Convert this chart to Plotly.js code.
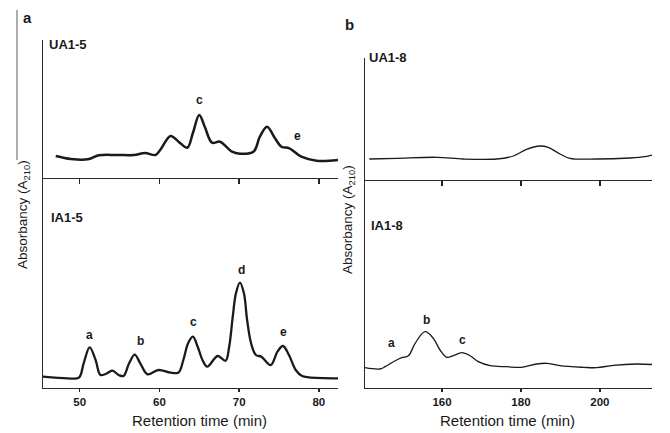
<!DOCTYPE html>
<html>
<head>
<meta charset="utf-8">
<script src="https://cdn.plot.ly/plotly-3.0.1.min.js"></script>
<style>html,body{margin:0;padding:0;background:#fff;}#chart{width:670px;height:433px;}</style>
</head>
<body>
<div id="chart"></div>
<script>
// ---- Data (retention time in min, absorbance in arbitrary units) ----
var ua15_t = [47.0, 48.9, 51.0, 52.4, 54.7, 56.8, 58.2, 59.5, 60.1, 61.4, 62.4, 63.5, 64.2, 65.0, 65.7, 66.6, 67.6, 69.1, 70.1, 71.8, 72.6, 73.5, 74.5, 75.3, 76.3, 77.8, 79.7, 82.4];
var ua15_a = [22, 19, 18.7, 22.7, 23, 23, 25, 23, 28, 42, 36.3, 30.3, 45, 63, 51, 35.3, 36.3, 26.3, 24.3, 26.3, 41.3, 51.3, 39.7, 31.3, 29.7, 21.3, 17.3, 18];

var ia15_t = [45.4, 48.5, 49.9, 50.5, 51.25, 52.0, 52.6, 53.25, 54.1, 54.9, 55.5, 56.2, 56.9, 57.6, 58.5, 59.9, 61.4, 62.4, 63.0, 63.6, 64.2, 64.8, 65.4, 66.0, 67.3, 68.3, 68.75, 69.2, 69.6, 70.1, 70.6, 71.0, 71.5, 72.1, 72.8, 73.96, 74.8, 75.5, 76.25, 77.1, 77.9, 78.75, 82.4];
var ia15_a = [11.3, 9.7, 10.3, 24.7, 40.7, 28, 13, 14, 17.3, 13, 12, 24.7, 33.3, 24.7, 13.7, 18, 15.3, 15.5, 28, 44.7, 51.3, 41.3, 28, 21.3, 32, 27.3, 41.3, 71.3, 94.7, 105.3, 94.7, 68, 44.7, 33, 31.3, 23, 36.3, 42, 33, 18, 12, 10.7, 9.7];

var ua18_t = [141.6, 148.5, 158.7, 165.4, 173.8, 178.1, 181.4, 184.8, 186.9, 189.9, 192.4, 199.2, 207.6, 211.4, 213.2];
var ua18_a = [21, 21.7, 22.7, 21, 21, 24, 30.7, 34, 32.7, 26, 21.7, 21, 22, 23.3, 25];

var ia18_t = [140.5, 144.3, 145.6, 147.7, 149.8, 151.5, 153.2, 155.7, 157.8, 159.5, 161.2, 162.9, 165.0, 167.1, 169.2, 172.2, 176.4, 180.2, 184.0, 186.5, 189.9, 195.8, 199.2, 203.4, 209.3, 213.2];
var ia18_a = [20.3, 19, 21.3, 26.3, 30.3, 32.3, 44.7, 56.3, 49.7, 38, 30.7, 32.3, 35.3, 32.3, 26.3, 22.3, 21.3, 20.7, 24, 24.7, 22.3, 20.7, 20.3, 22.7, 24, 23.5];

// peak labels
var pk_ua15_lab = ['c', 'e'];
var pk_ua15_t = [65.0, 77.3];
var pk_ua15_a = [78, 42];
var pk_ia15_lab = ['a', 'b', 'c', 'd', 'e'];
var pk_ia15_t = [51.25, 57.6, 64.3, 70.3, 75.6];
var pk_ia15_a = [53, 47, 66, 118, 56];
var pk_ia18_lab = ['a', 'b', 'c'];
var pk_ia18_t = [147.3, 156.1, 165.2];
var pk_ia18_a = [44.7, 68, 48];

var ticksA = [50, 60, 70, 80];
var ticksB = [160, 180, 200];

// ---- Layout ----
var W = 670, H = 433;
function px(x) { return x / W; }
function py(y) { return 1 - y / H; }
var FONT = 'Liberation Sans, Arial, sans-serif';
var INK = '#1a1a1a';

var rangeA = [45.4, 82.4], rangeB = [140.5, 213.2];

function xax(dom, range, ticks, labels, ticklen, anchor) {
  return {
    domain: dom, range: range, anchor: anchor, side: 'bottom',
    showline: true, linecolor: '#2a2a2a', linewidth: 1.2,
    showgrid: false, zeroline: false,
    tickmode: 'array', tickvals: ticks, ticks: 'outside', ticklen: ticklen, tickwidth: 1.6, tickcolor: '#222',
    showticklabels: labels, layer: 'above traces',
    tickfont: {family: FONT, size: 11.5, color: INK, weight: 'bold'}
  };
}
function yax(dom, range, anchor) {
  return {
    domain: dom, range: range, anchor: anchor,
    showline: true, linecolor: '#2a2a2a', linewidth: 1.2,
    showgrid: false, zeroline: false, showticklabels: false, ticks: ''
  };
}

var traces = [
  {x: ia15_t, y: ia15_a, xaxis: 'x', yaxis: 'y', mode: 'lines', line: {color: INK, width: 2.3, shape: 'spline', smoothing: 1}},
  {x: ua15_t, y: ua15_a, xaxis: 'x2', yaxis: 'y2', mode: 'lines', line: {color: INK, width: 2.5, shape: 'spline', smoothing: 1}},
  {x: ia18_t, y: ia18_a, xaxis: 'x3', yaxis: 'y3', mode: 'lines', line: {color: INK, width: 1.3, shape: 'spline', smoothing: 1}},
  {x: ua18_t, y: ua18_a, xaxis: 'x4', yaxis: 'y4', mode: 'lines', line: {color: INK, width: 1.3, shape: 'spline', smoothing: 1}}
];

var ann = [];
function pk(labs, ts, as, xr, yr) {
  for (var i = 0; i < labs.length; i++) {
    ann.push({text: '<b>' + labs[i] + '</b>', x: ts[i], y: as[i], xref: xr, yref: yr, showarrow: false,
      font: {family: FONT, size: 12, color: INK}});
  }
}
pk(pk_ua15_lab, pk_ua15_t, pk_ua15_a, 'x2', 'y2');
pk(pk_ia15_lab, pk_ia15_t, pk_ia15_a, 'x', 'y');
pk(pk_ia18_lab, pk_ia18_t, pk_ia18_a, 'x3', 'y3');

function txt(t, x, y, size, xanchor, angle) {
  ann.push({text: t, x: px(x), y: py(y), xref: 'paper', yref: 'paper', showarrow: false,
    xanchor: xanchor || 'center', yanchor: 'middle', textangle: angle || 0,
    font: {family: FONT, size: size, color: INK}});
}
txt('<b>a</b>', 27, 17, 15);
txt('<b>b</b>', 350, 25, 15);
txt('<b>UA1-5</b>', 47, 45, 13, 'left');
txt('<b>IA1-5</b>', 49, 217, 13, 'left');
txt('<b>UA1-8</b>', 367, 57, 13, 'left');
txt('<b>IA1-8</b>', 369, 225, 13, 'left');
txt('Retention time (min)', 200, 420, 15);
txt('Retention time (min)', 507, 420, 15);
txt('Absorbancy (A<sub>210</sub>)', 23, 215, 13.5, 'center', -90);
txt('Absorbancy (A<sub>210</sub>)', 348, 220, 13.5, 'center', -90);

var layout = {
  width: W, height: H,
  margin: {l: 0, r: 0, t: 0, b: 0},
  paper_bgcolor: '#fff', plot_bgcolor: 'rgba(0,0,0,0)',
  showlegend: false,
  xaxis: xax([px(43), px(338)], rangeA, ticksA, true, 3, 'y'),
  yaxis: yax([py(388), py(178)], [0, 210], 'x'),
  xaxis2: xax([px(43), px(338)], rangeA, ticksA, false, 5, 'y2'),
  yaxis2: yax([py(178), py(40)], [0, 138], 'x2'),
  xaxis3: xax([px(365), px(652)], rangeB, ticksB, true, 3, 'y3'),
  yaxis3: yax([py(388), py(180)], [0, 208], 'x3'),
  xaxis4: xax([px(365), px(652)], rangeB, ticksB, false, 5, 'y4'),
  yaxis4: yax([py(180), py(58)], [0, 122], 'x4'),
  annotations: ann,
  shapes: [
    {type: 'line', xref: 'paper', yref: 'paper', x0: px(17), x1: px(17), y0: py(10), y1: py(160), line: {color: '#777', width: 1.2}}
  ]
};

Plotly.newPlot('chart', traces, layout, {staticPlot: true, displayModeBar: false});
</script>
</body>
</html>
